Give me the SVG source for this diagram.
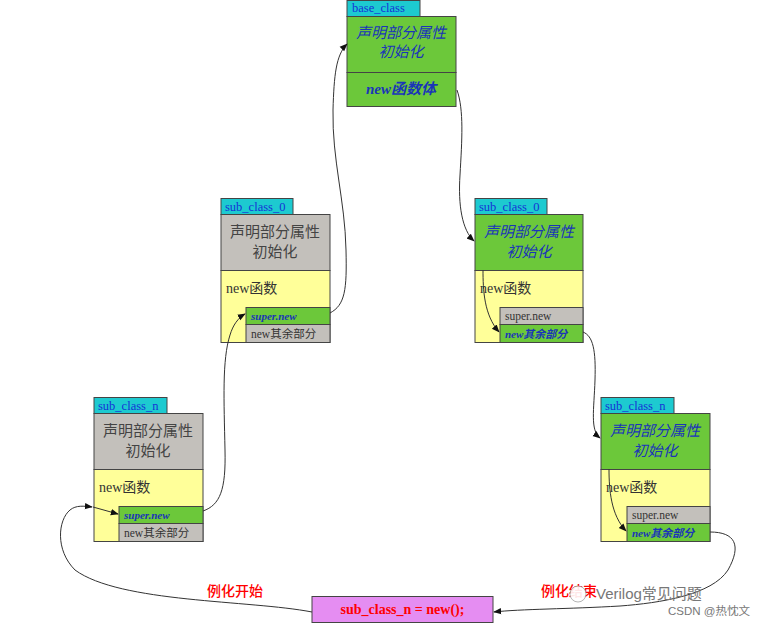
<svg xmlns="http://www.w3.org/2000/svg" width="773" height="627" viewBox="0 0 773 627">
<style>
.tab{fill:#1dcad0;stroke:#444;stroke-width:1}
.box{stroke:#444;stroke-width:1}
.g{fill:#6cc83a}
.gr{fill:#c3c0bb}
.y{fill:#ffff99}
.m{fill:#e58df2}
.tt{font-family:"Liberation Serif","Noto Sans CJK SC",serif;font-size:12.5px;fill:#1533d6}
.hb{font-family:"Liberation Serif","Noto Sans CJK SC",serif;font-size:15px;fill:#1a35b8;font-style:italic;text-anchor:middle}
.hg{font-family:"Liberation Serif","Noto Sans CJK SC",serif;font-size:15px;fill:#444;text-anchor:middle}
.nf{font-family:"Liberation Serif","Noto Sans CJK SC",serif;font-size:14px;fill:#333}
.sb{font-family:"Liberation Serif","Noto Sans CJK SC",serif;font-size:11px;fill:#1a35b8;font-style:italic;font-weight:bold}
.sg{font-family:"Liberation Serif","Noto Sans CJK SC",serif;font-size:11.5px;fill:#333}
.rd{font-family:"Liberation Serif","Noto Sans CJK SC",serif;font-size:14px;fill:#ff0000;font-weight:bold}
.lb{font-family:"Liberation Serif","Noto Sans CJK SC",serif;font-size:14px;fill:#ff0000;font-weight:500}
.wm{font-family:"Liberation Sans","Noto Sans CJK SC",sans-serif;fill:#777}
.c{fill:none;stroke:#333;stroke-width:1}
</style>
<defs>
<marker id="ah" viewBox="0 0 10 10" refX="9" refY="5" markerWidth="8" markerHeight="8" markerUnits="userSpaceOnUse" orient="auto">
<path d="M0,1 L10,5 L0,9 Z" fill="#111"/>
</marker>
</defs>

<g id="base_class">
<rect class="tab" x="347" y="0.5" width="73" height="16"/>
<text class="tt" x="352" y="12">base_class</text>
<rect class="box g" x="347" y="16.5" width="109" height="56"/>
<rect class="box g" x="347" y="72.5" width="109" height="34"/>
<text class="hb" x="401" y="38">声明部分属性</text>
<text class="hb" x="401" y="57">初始化</text>
<text class="hb" x="401" y="94" font-weight="bold">new函数体</text>
</g>

<g id="sub_class_0_left">
<rect class="tab" x="221" y="198.5" width="72" height="16"/>
<text class="tt" x="225" y="211">sub_class_0</text>
<rect class="box gr" x="221" y="214.5" width="109" height="56"/>
<rect class="box y" x="221" y="270.5" width="109" height="72"/>
<rect class="box g" x="246" y="307.5" width="84" height="17"/>
<rect class="box gr" x="246" y="324.5" width="84" height="18"/>
<text class="hg" x="275" y="237">声明部分属性</text>
<text class="hg" x="275" y="257">初始化</text>
<text class="nf" x="226" y="293">new函数</text>
<text class="sb" x="251" y="320">super.new</text>
<text class="sg" x="251" y="338">new其余部分</text>
</g>

<g id="sub_class_0_right">
<rect class="tab" x="475" y="198.5" width="72" height="16"/>
<text class="tt" x="479" y="211">sub_class_0</text>
<rect class="box g" x="475" y="214.5" width="108" height="56"/>
<rect class="box y" x="475" y="270.5" width="108" height="72"/>
<rect class="box gr" x="500" y="307.5" width="83" height="17"/>
<rect class="box g" x="500" y="324.5" width="83" height="18"/>
<text class="hb" x="529" y="237">声明部分属性</text>
<text class="hb" x="529" y="257">初始化</text>
<text class="nf" x="480" y="293">new函数</text>
<text class="sg" x="505" y="320">super.new</text>
<text class="sb" x="505" y="338">new其余部分</text>
</g>

<g id="sub_class_n_left">
<rect class="tab" x="94" y="397.5" width="73" height="16"/>
<text class="tt" x="98" y="410">sub_class_n</text>
<rect class="box gr" x="94" y="413.5" width="109" height="56"/>
<rect class="box y" x="94" y="469.5" width="109" height="72"/>
<rect class="box g" x="119" y="506.5" width="84" height="17"/>
<rect class="box gr" x="119" y="523.5" width="84" height="18"/>
<text class="hg" x="148" y="436">声明部分属性</text>
<text class="hg" x="148" y="456">初始化</text>
<text class="nf" x="99" y="492">new函数</text>
<text class="sb" x="124" y="519">super.new</text>
<text class="sg" x="124" y="537">new其余部分</text>
</g>

<g id="sub_class_n_right">
<rect class="tab" x="601" y="397.5" width="73" height="16"/>
<text class="tt" x="605" y="410">sub_class_n</text>
<rect class="box g" x="601" y="413.5" width="109" height="56"/>
<rect class="box y" x="601" y="469.5" width="109" height="72"/>
<rect class="box gr" x="627" y="506.5" width="83" height="17"/>
<rect class="box g" x="627" y="523.5" width="83" height="18"/>
<text class="hb" x="655" y="436">声明部分属性</text>
<text class="hb" x="655" y="456">初始化</text>
<text class="nf" x="606" y="492">new函数</text>
<text class="sg" x="632" y="519">super.new</text>
<text class="sb" x="632" y="537">new其余部分</text>
</g>

<g id="new_call">
<rect class="box m" x="312" y="596.5" width="181" height="26"/>
<text class="rd" x="402.5" y="614" text-anchor="middle">sub_class_n = new();</text>
</g>

<g id="connectors">
<path class="c" marker-end="url(#ah)" d="M312,612 C250,600 120,603 75,570 C55,550 58,520 70,510 C76,505 84,506 92,507"/>
<path class="c" marker-end="url(#ah)" d="M93,507 L118,514"/>
<path class="c" marker-end="url(#ah)" d="M203,511 C220,505 226,490 225,450 C224,400 222,360 230,335 C233,325 238,318 245,314"/>
<path class="c" marker-end="url(#ah)" d="M330,313 C345,305 347,290 346,250 C345,200 332,160 333,110 C334,75 336,55 347,44"/>
<path class="c" marker-end="url(#ah)" d="M457,90 C464,110 462,140 460,175 C458,205 462,230 474,241"/>
<path class="c" marker-end="url(#ah)" d="M483,270 C483,290 484,315 499,332"/>
<path class="c" marker-end="url(#ah)" d="M583,332 C593,336 596,350 595,380 C594,410 590,430 600,438"/>
<path class="c" marker-end="url(#ah)" d="M609,469 C609,490 611,515 626,531"/>
<path class="c" marker-end="url(#ah)" d="M710,532 C735,532 742,545 728,570 C712,595 660,603 620,606 C570,609 520,609 494,612"/>
</g>

<g id="labels">
<text class="lb" x="207" y="596">例化开始</text>
<text class="lb" x="541" y="596">例化结束</text>
</g>

<g id="watermark">
<circle cx="578" cy="594" r="8" fill="#fff" stroke="#999" stroke-width="0.8" opacity="0.9"/>
<text class="wm" x="596" y="599" font-size="15">Verilog常见问题</text>
<text class="wm" x="668" y="615" font-size="11.5">CSDN @热忱文</text>
</g>
</svg>
